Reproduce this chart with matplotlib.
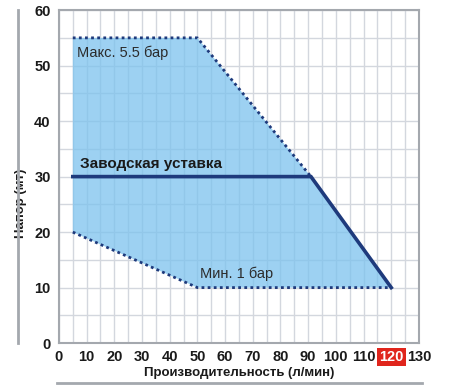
import matplotlib.pyplot as plt
from matplotlib.lines import Line2D
import numpy as np

# pump performance envelope (flow l/min, head m)
max_flow = [5, 50, 91]
max_head = [55, 55, 30]
min_flow = [5, 50, 120]
min_head = [20, 10, 10]
factory_flow = [5, 91, 120]
factory_head = [30, 30, 10]

x_ticks = list(range(0, 140, 10))
y_ticks = list(range(0, 70, 10))
highlight_tick = 120

NAVY = '#1e3a7c'
FILL = '#7cc2ee'
GRID = '#d3d7de'

plt.rcParams['font.family'] = ['Liberation Sans', 'DejaVu Sans']

fig = plt.figure(figsize=(4.5, 3.89), dpi=100)
ax = fig.add_axes([0.131, 0.118, 0.800, 0.856])

# shaded operating area
poly_x = max_flow + [factory_flow[-1]] + min_flow[::-1]
poly_y = max_head + [factory_head[-1]] + min_head[::-1]
ax.fill(poly_x, poly_y, color=FILL, alpha=0.75, lw=0, zorder=2)

ax.plot(max_flow, max_head, ls=(0, (1, 1.2)), color=NAVY, lw=2, zorder=3)
ax.plot(min_flow, min_head, ls=(0, (1, 1.2)), color=NAVY, lw=2, zorder=3)
ax.plot(factory_flow, factory_head, color=NAVY, lw=2.6, zorder=4,
        solid_joinstyle='miter')

ax.text(6.5, 52.3, 'Макс. 5.5 бар', fontsize=10.5, color='#2b2b2b',
        va='center', ha='left', zorder=5)
ax.text(7.5, 31.0, 'Заводская уставка', fontsize=11, fontweight='bold',
        color='#1a1a1a', va='bottom', ha='left', zorder=5)
ax.text(51, 11.2, 'Мин. 1 бар', fontsize=10.5, color='#2b2b2b',
        va='bottom', ha='left', zorder=5)

ax.set_xlim(0, 130)
ax.set_ylim(0, 60)
ax.set_xticks(x_ticks)
ax.set_yticks(y_ticks)
ax.set_xticks(np.arange(0, 131, 5), minor=True)
ax.set_yticks(np.arange(0, 61, 5), minor=True)
ax.grid(True, which='both', color=GRID, lw=1, zorder=1)
ax.set_axisbelow(True)
ax.tick_params(which='both', length=0)
ax.tick_params(axis='x', pad=5)
ax.tick_params(axis='y', pad=6)

for lab in ax.get_xticklabels() + ax.get_yticklabels():
    lab.set_fontweight('bold')
    lab.set_fontsize(10.5)
    lab.set_color('#1a1a1a')

for lab, val in zip(ax.get_xticklabels(), x_ticks):
    if val == highlight_tick:
        lab.set_color('white')
        lab.set_bbox(dict(facecolor='#e0251c', edgecolor='none', pad=1.6))

for sp in ax.spines.values():
    sp.set_color('#a4a8ae')
    sp.set_linewidth(1.5)

ax.set_xlabel('Производительность (л/мин)', fontsize=9.5, fontweight='bold',
              color='#1a1a1a', labelpad=2)
ax.set_ylabel('Напор (мт)', fontsize=9.5, fontweight='bold',
              color='#1a1a1a', labelpad=2)
ax.yaxis.set_label_coords(-0.088, 0.42)

# decorative grey rules
fig.add_artist(Line2D([18 / 450, 18 / 450], [1 - 10 / 389, 1 - 343 / 389],
                      color='#a4a8ae', lw=2))
fig.add_artist(Line2D([57 / 450, 422 / 450], [1 - 383 / 389, 1 - 383 / 389],
                      color='#a4a8ae', lw=2))

fig.savefig('out.png', dpi=100)
